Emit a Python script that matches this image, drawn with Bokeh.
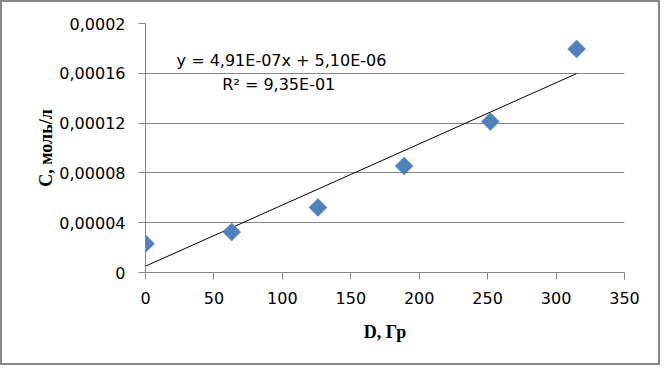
import numpy as np
from bokeh.plotting import figure
from bokeh.models import Range1d, FixedTicker, CustomJSTickFormatter, Label
from bokeh.embed import file_html
from bokeh.resources import INLINE

# ---- data ----
dose = [0, 63, 126, 189, 252, 315]                      # D, Гр
conc = [2.31e-5, 3.25e-5, 5.22e-5, 8.55e-5, 1.212e-4, 1.796e-4]  # C, моль/л
slope = 4.91e-7
intercept = 5.10e-6
x_ticks = [0, 50, 100, 150, 200, 250, 300, 350]
y_ticks = [0, 0.00004, 0.00008, 0.00012, 0.00016, 0.0002]
y_tick_labels = ["0", "0,00004", "0,00008", "0,00012", "0,00016", "0,0002"]
eq_text = "y = 4,91E-07x + 5,10E-06"
r2_text = "R² = 9,35E-01"
x_title = "D, Гр"
y_title = "С, моль/л"

GRAY = "#868686"
BLUE = "#4F81BD"
TICK_FONT = "DejaVu Sans"

p = figure(width=660, height=365, output_backend="svg", toolbar_location=None,
           x_range=Range1d(0, 350), y_range=Range1d(0, 0.0002),
           min_border_left=143, min_border_right=38, min_border_top=21, min_border_bottom=95,
           background_fill_color="white", border_fill_color="white")
p.outline_line_color = None
p.styles = {"border": "2px solid " + GRAY, "background-color": "white"}

# axes
p.xaxis.ticker = FixedTicker(ticks=x_ticks)
p.yaxis.ticker = FixedTicker(ticks=y_ticks)
p.yaxis.formatter = CustomJSTickFormatter(args=dict(labels=y_tick_labels, step=y_ticks[1]),
                                          code="return labels[Math.round(tick/step)];")
for ax in (p.xaxis, p.yaxis):
    ax.axis_line_color = GRAY
    ax.axis_line_width = 1
    ax.major_tick_line_color = GRAY
    ax.major_tick_out = 7
    ax.major_tick_in = 0
    ax.minor_tick_line_color = None
    ax.major_label_text_font = TICK_FONT
    ax.major_label_text_font_size = "16px"
    ax.major_label_text_color = "black"
    ax.axis_label_text_font = "Liberation Serif"
    ax.axis_label_text_font_style = "bold"
    ax.axis_label_text_font_size = "18px"
    ax.axis_label_text_color = "black"
p.xaxis.axis_label = x_title
p.yaxis.axis_label = y_title
p.xaxis.major_label_standoff = 12
p.yaxis.major_label_standoff = 13
p.xaxis.axis_label_standoff = 15
p.yaxis.axis_label_standoff = 0

p.xgrid.grid_line_color = None
p.ygrid.grid_line_color = GRAY
p.ygrid.grid_line_width = 1

# trendline from the fitted equation
tx = np.array([dose[0], dose[-1]], dtype=float)
p.line(tx, slope * tx + intercept, line_color="black", line_width=1)

# data points (diamonds)
p.scatter(dose, conc, marker="square", angle=np.pi / 4, size=12.7,
          fill_color=BLUE, line_color=BLUE, line_width=0.5)

# trendline label
p.add_layout(Label(x=99.4, y=0.0001702, text=eq_text, text_align="center",
                   text_baseline="middle", text_font=TICK_FONT, text_font_size="16px",
                   text_color="black"))
p.add_layout(Label(x=97.4, y=0.0001508, text=r2_text, text_align="center",
                   text_baseline="middle", text_font=TICK_FONT, text_font_size="16px",
                   text_color="black"))

open("out.html", "w").write(file_html(p, INLINE))
